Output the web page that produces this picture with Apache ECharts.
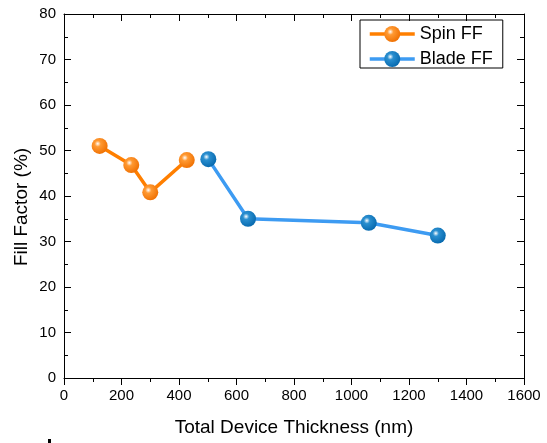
<!DOCTYPE html>
<html>
<head>
<meta charset="utf-8">
<script src="https://cdn.jsdelivr.net/npm/echarts@6/dist/echarts.min.js"></script>
<style>
html,body{margin:0;padding:0;background:#fff;}
#chart{width:547px;height:443px;}
</style>
</head>
<body>
<div id="chart"></div>
<script>
// ---- data ----
var seriesNames = ['Spin FF', 'Blade FF'];
var spinThickness = [124, 234, 300, 427];
var spinFF = [51.0, 46.8, 40.8, 47.9];
var bladeThickness = [502, 640, 1060, 1300];
var bladeFF = [48.1, 35.0, 34.1, 31.3];
var xTitle = 'Total Device Thickness (nm)';
var yTitle = 'Fill Factor (%)';

function pairs(xs, ys) { return xs.map(function (x, i) { return [x, ys[i]]; }); }
function sphere(light, mid, dark) {
  return { type: 'radial', x: 0.38, y: 0.36, r: 0.68,
    colorStops: [{ offset: 0, color: light }, { offset: 0.28, color: mid }, { offset: 1, color: dark }] };
}

var FONT = 'Liberation Sans, Arial, sans-serif';
var chart = echarts.init(document.getElementById('chart'), null, { renderer: 'canvas' });

var axisBase = {
  axisLine: { show: true, onZero: false, lineStyle: { color: '#000', width: 1 } },
  splitLine: { show: false }
};
var spinLine = { color: '#ff7f00', width: 3.5 };
var bladeLine = { color: '#3d9bf2', width: 3.5 };
var spinItem = { color: sphere('#ffffff', '#ff9a33', '#ef6f00'), borderWidth: 0 };
var bladeItem = { color: sphere('#ffffff', '#2a8fd0', '#0668ad'), borderWidth: 0 };

chart.setOption({
  backgroundColor: '#fff',
  animation: false,
  grid: { left: 64, top: 14, right: 23, bottom: 65, containLabel: false },
  legend: {
    orient: 'vertical',
    left: 360, top: 20,
    data: [
      { name: seriesNames[0], lineStyle: spinLine, itemStyle: spinItem },
      { name: seriesNames[1], lineStyle: bladeLine, itemStyle: bladeItem }
    ],
    itemWidth: 45, itemHeight: 20, itemGap: 7,
    padding: [5, 10, 0, 8],
    borderColor: '#000', borderWidth: 1,
    textStyle: { fontFamily: FONT, fontSize: 18, color: '#000' }
  },
  xAxis: [
    Object.assign({}, axisBase, {
      type: 'value', position: 'bottom', min: 0, max: 1600, interval: 200,
      axisTick: { show: true, inside: false, length: 7, lineStyle: { color: '#000' } },
      minorTick: { show: true, splitNumber: 2, length: 4, lineStyle: { color: '#000' } },
      axisLabel: { fontFamily: FONT, fontSize: 15, color: '#000', margin: 10,
        formatter: function (v) { return String(v); } },
      name: xTitle, nameLocation: 'middle', nameGap: 40,
      nameTextStyle: { fontFamily: FONT, fontSize: 19, color: '#000' }
    }),
    Object.assign({}, axisBase, {
      type: 'value', position: 'top', min: 0, max: 1600, interval: 200,
      axisTick: { show: true, inside: true, length: 7, lineStyle: { color: '#000' } },
      minorTick: { show: true, splitNumber: 2, length: 4, lineStyle: { color: '#000' } },
      axisLabel: { show: false }
    })
  ],
  yAxis: [
    Object.assign({}, axisBase, {
      type: 'value', position: 'left', min: 0, max: 80, interval: 10,
      axisTick: { show: true, inside: true, length: 7, lineStyle: { color: '#000' } },
      minorTick: { show: true, splitNumber: 2, length: 4, lineStyle: { color: '#000' } },
      axisLabel: { fontFamily: FONT, fontSize: 15, color: '#000', margin: 8 }
    }),
    Object.assign({}, axisBase, {
      type: 'value', position: 'right', min: 0, max: 80, interval: 10,
      axisTick: { show: true, inside: true, length: 7, lineStyle: { color: '#000' } },
      minorTick: { show: true, splitNumber: 2, length: 4, lineStyle: { color: '#000' } },
      axisLabel: { show: false }
    })
  ],
  graphic: [
    { type: 'text', x: 22, y: 207, rotation: Math.PI / 2,
      style: { text: yTitle, fontFamily: FONT, fontSize: 19, fill: '#000', align: 'center', verticalAlign: 'middle' } },
    { type: 'rect', shape: { x: 48, y: 439, width: 3, height: 4 }, style: { fill: '#000' } }
  ],
  series: [
    {
      name: seriesNames[0], type: 'line', xAxisIndex: 0, yAxisIndex: 0,
      data: pairs(spinThickness, spinFF),
      symbol: 'circle', symbolSize: 16,
      lineStyle: spinLine, itemStyle: spinItem, z: 3
    },
    {
      name: seriesNames[1], type: 'line', xAxisIndex: 0, yAxisIndex: 0,
      data: pairs(bladeThickness, bladeFF),
      symbol: 'circle', symbolSize: 16,
      lineStyle: bladeLine, itemStyle: bladeItem, z: 3
    }
  ]
});
</script>
</body>
</html>
